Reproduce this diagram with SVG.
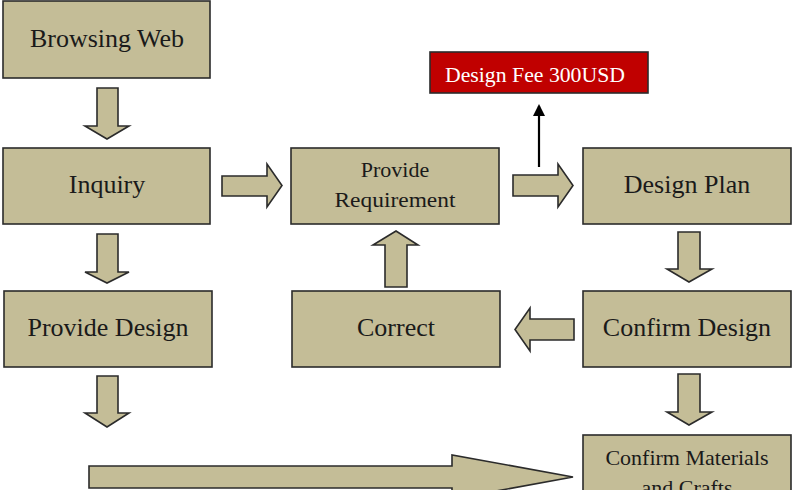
<svg xmlns="http://www.w3.org/2000/svg" width="800" height="490" viewBox="0 0 800 490">
<style>
.box{fill:#C4BD97;stroke:#2b2b2b;stroke-width:1.6}
.fee{fill:#C00000;stroke:#2b2b2b;stroke-width:1.6}
.blk{fill:#C4BD97;stroke:#2b2b2b;stroke-width:1.6;stroke-linejoin:miter}
.t{font-family:"Liberation Serif","Times New Roman",serif;fill:#1a1a1a;text-anchor:middle}
.big{font-size:26px}
.sm{font-size:22px}
.w{fill:#ffffff;font-size:21px}
</style>
<defs>
<marker id="ah" markerWidth="12" markerHeight="12" refX="10" refY="6" orient="auto" markerUnits="userSpaceOnUse" viewBox="0 0 12 12">
<path d="M0,0 L12,6 L0,12 Z" fill="#000"/>
</marker>
</defs>
<rect width="800" height="490" fill="#ffffff"/>
<g id="connectors">
<polygon class="blk" points="97,88 118,88 118,126 129,126 107,139 85,126 97,126"/>
<polygon class="blk" points="97,234 118,234 118,272 129,272 107,283 85,272 97,272"/>
<polygon class="blk" points="97,376 118,376 118,413 129,413 107,427 85,413 97,413"/>
<polygon class="blk" points="222,176 267,176 267,164 282,185.5 267,207 267,196 222,196"/>
<polygon class="blk" points="513,175 558,175 558,164 573,185.5 558,207 558,196 513,196"/>
<polygon class="blk" points="385,287 385,245 373,245 396,231 418,245 407,245 407,287"/>
<polygon class="blk" points="678,232 700,232 700,269 712,269 689,282 667,269 678,269"/>
<polygon class="blk" points="574,319 530,319 530,308 515,329.5 530,351 530,340 574,340"/>
<polygon class="blk" points="678,374 700,374 700,412 712,412 689,425 667,412 678,412"/>
<polygon class="blk" points="89,466 452,466 452,455 573,477 452,499 452,488 89,488"/>
<line x1="539" y1="167" x2="539" y2="106" stroke="#000" stroke-width="2.2" marker-end="url(#ah)"/>
</g>
<g id="browsing">
<rect class="box" x="3" y="1" width="207" height="77"/>
<text class="t big" x="107" y="47">Browsing Web</text>
</g>
<g id="inquiry">
<rect class="box" x="3" y="148" width="207" height="76"/>
<text class="t big" x="107" y="193">Inquiry</text>
</g>
<g id="provide-requirement">
<rect class="box" x="291" y="148" width="208" height="76"/>
<text class="t sm" x="395" y="177">Provide</text>
<text class="t sm" x="395" y="207" textLength="121" lengthAdjust="spacingAndGlyphs">Requirement</text>
</g>
<g id="design-fee">
<rect class="fee" x="430" y="52" width="218" height="41"/>
<text class="t w" x="535" y="82" textLength="180" lengthAdjust="spacingAndGlyphs">Design Fee 300USD</text>
</g>
<g id="design-plan">
<rect class="box" x="583" y="148" width="208" height="76"/>
<text class="t big" x="687" y="193">Design Plan</text>
</g>
<g id="provide-design">
<rect class="box" x="4" y="291" width="208" height="76"/>
<text class="t big" x="108" y="336">Provide Design</text>
</g>
<g id="correct">
<rect class="box" x="292" y="291" width="208" height="76"/>
<text class="t big" x="396" y="336">Correct</text>
</g>
<g id="confirm-design">
<rect class="box" x="583" y="291" width="208" height="76"/>
<text class="t big" x="687" y="336">Confirm Design</text>
</g>
<g id="confirm-materials">
<rect class="box" x="583" y="435" width="208" height="70"/>
<text class="t sm" x="687" y="465">Confirm Materials</text>
<text class="t sm" x="687" y="495">and Crafts</text>
</g>
</svg>
